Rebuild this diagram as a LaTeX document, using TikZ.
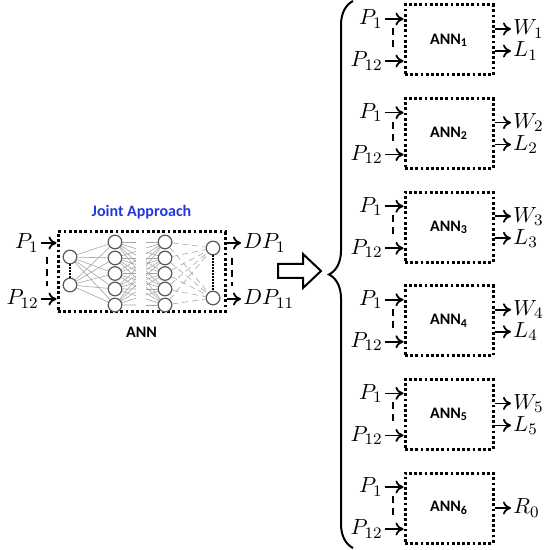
\documentclass[tikz,border=0pt]{standalone}
\usepackage{fontspec}
\setsansfont{Carlito}
\usetikzlibrary{arrows.meta, positioning, calc, decorations.pathreplacing}
\definecolor{jointblue}{RGB}{35,55,225}

\begin{document}
\begin{tikzpicture}[
    x=0.5pt, y=-0.5pt,
    font=\fontsize{11}{13}\selectfont,
    lab/.style={inner sep=1pt},
    lbl/.style={font=\sffamily\bfseries\fontsize{8}{9.5}\selectfont, inner sep=1pt},
    dotbox/.style={draw, line width=1.5pt, dash pattern=on 1.4pt off 1.2pt},
    annbox/.style={dotbox, minimum width=44pt, minimum height=35pt, lbl},
    arr/.style={line width=0.9pt, -{To[length=4pt, width=6.5pt]}},
    vdash/.style={line width=1.1pt, dash pattern=on 3.5pt off 2.5pt},
    neuron/.style={circle, draw=black!65, fill=white, line width=0.6pt, minimum size=6.8pt, inner sep=0pt},
    edge/.style={gray!70, line width=0.3pt},
    dotline/.style={line width=0.8pt, dash pattern=on 0.6pt off 0.9pt}
]
\useasboundingbox (0,0) rectangle (551,550);

% joint network
\node[dotbox, minimum width=83.5pt, minimum height=40pt] (net) at (141.5,272) {};
\node[lbl, text=jointblue, above=4.5pt of net] (title) {Joint Approach};
\node[lbl, below=5.5pt of net] (netname) {ANN};

\foreach \y [count=\k] in {257,285}
    \node[neuron] (i\k) at (70,\y) {};
\foreach \y [count=\k] in {242,258,273.5,289,305} {
    \node[neuron] (a\k) at (115,\y) {};
    \node[neuron] (b\k) at (165,\y) {};
}
\foreach \y [count=\k] in {248,298}
    \node[neuron] (o\k) at (213,\y) {};

\foreach \k in {1,2}
    \foreach \m in {1,...,5} {
        \draw[edge] (i\k) -- (a\m);
        \draw[edge, densely dashed] (b\m) -- (o\k);
    }
\foreach \k in {1,...,5}
    \foreach \m in {1,...,5} {
        \draw[edge] (a\k) -- ($(a\k)!0.42!(b\m)$);
        \draw[edge] ($(a\k)!0.62!(b\m)$) -- (b\m);
    }
\draw[dotline] (i1) -- (i2);
\draw[dotline] (o1) -- (o2);

\node[lab, anchor=east] (lp1) at (41,243) {$P_1$};
\node[lab, anchor=east] (lp12) at (41,299) {$P_{12}$};
\node[lab, anchor=west] (dp1) at (241,243) {$DP_1$};
\node[lab, anchor=west] (dp11) at (241,299) {$DP_{11}$};
\draw[arr] (lp1) -- (lp1 -| net.west);
\draw[arr] (lp12) -- (lp12 -| net.west);
\draw[arr] (net.east |- dp1) -- (dp1);
\draw[arr] (net.east |- dp11) -- (dp11);
\draw[vdash] (47,257) -- (47,286);
\draw[vdash] (232,258) -- (232,286);

% big arrow and brace
\draw[line width=1pt, line join=miter] (278,264) -- (303,264) -- (303,254) -- (321,271)
    -- (303,288) -- (303,278) -- (278,278) -- cycle;
\draw[line width=1pt, decorate, decoration={brace, amplitude=12pt}] (353,548) -- (353,1);

% separate networks
\foreach \i in {1,...,6} {
    \pgfmathsetmacro\yc{40+93.6*(\i-1)}
    \node[annbox] (ann\i) at (449,\yc) {ANN\textsubscript{\i}};
    \node[lab, anchor=east] (pa\i) at (385,\yc-21) {$P_1$};
    \node[lab, anchor=east] (pb\i) at (385,\yc+21) {$P_{12}$};
    \draw[arr] (pa\i) -- (pa\i -| ann\i.west);
    \draw[arr] (pb\i) -- (pb\i -| ann\i.west);
    \draw[vdash] (393,\yc-12) -- (393,\yc+11);
    \ifnum\i<6
        \node[lab, anchor=west] (w\i) at (511,\yc-11) {$W_{\i}$};
        \node[lab, anchor=west] (l\i) at (511,\yc+11) {$L_{\i}$};
        \draw[arr] (ann\i.east |- w\i) -- (w\i);
        \draw[arr] (ann\i.east |- l\i) -- (l\i);
    \else
        \node[lab, anchor=west] (r\i) at (511,\yc) {$R_0$};
        \draw[arr] (ann\i.east |- r\i) -- (r\i);
    \fi
}

\end{tikzpicture}
\end{document}
